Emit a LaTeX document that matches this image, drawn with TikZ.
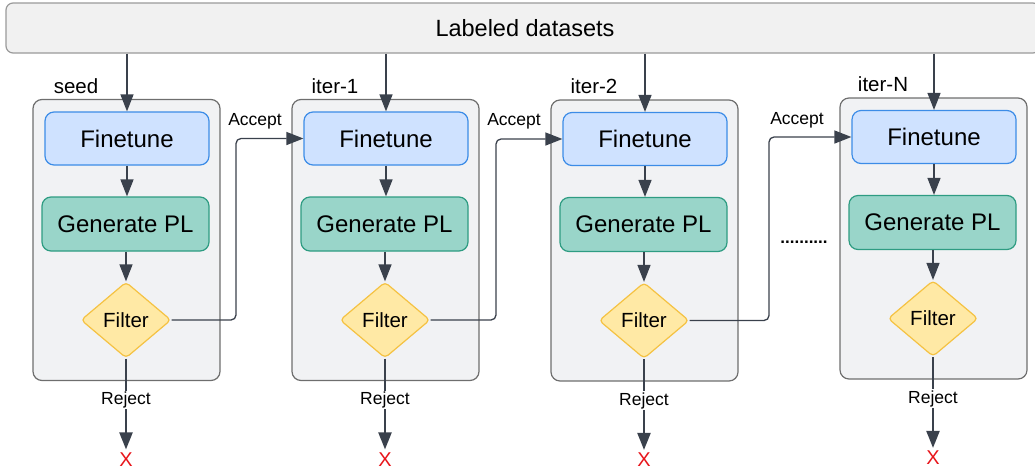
\documentclass[tikz,border=0pt]{standalone}
\usepackage{fontspec}
\setmainfont{Liberation Sans}
\usetikzlibrary{arrows.meta,shapes.geometric}
\definecolor{arr}{HTML}{3A414C}
\definecolor{topfill}{HTML}{F1F1F1}
\definecolor{topdraw}{HTML}{9A9A9A}
\definecolor{colfill}{HTML}{F1F2F4}
\definecolor{coldraw}{HTML}{6E6E6E}
\definecolor{ftfill}{HTML}{CFE2FF}
\definecolor{ftdraw}{HTML}{3C8CE7}
\definecolor{gpfill}{HTML}{99D5C9}
\definecolor{gpdraw}{HTML}{2E9C82}
\definecolor{flfill}{HTML}{FFE9A5}
\definecolor{fldraw}{HTML}{F5C242}
\definecolor{xred}{HTML}{E8151B}
\tikzset{
  topbox/.style={draw=topdraw,fill=topfill,line width=1.2pt,rounded corners=7pt,minimum width=1034pt,minimum height=50pt,inner sep=0pt},
  colbox/.style={draw=coldraw,fill=colfill,line width=1.2pt,rounded corners=9pt,minimum width=187pt,minimum height=281pt,inner sep=0pt},
  ftbox/.style={draw=ftdraw,fill=ftfill,line width=1.2pt,rounded corners=9pt,minimum width=164pt,minimum height=53pt,inner sep=0pt,font=\fontsize{24}{28}\selectfont},
  gpbox/.style={draw=gpdraw,fill=gpfill,line width=1.2pt,rounded corners=9pt,minimum width=167pt,minimum height=54pt,inner sep=0pt,font=\fontsize{24}{28}\selectfont},
  flbox/.style={diamond,draw=fldraw,fill=flfill,line width=1.2pt,rounded corners=4pt,minimum width=90pt,minimum height=76pt,inner sep=0pt,font=\fontsize{20.5}{24}\selectfont},
  collabel/.style={inner sep=0pt,font=\fontsize{20.5}{24}\selectfont},
  smalllabel/.style={inner sep=1pt,fill=white,font=\fontsize{17.5}{21}\selectfont},
  xmark/.style={inner sep=0pt,text=xred,font=\fontsize{20}{24}\selectfont},
  thinarrow/.style={draw=arr,line width=1.3pt,-{Triangle[length=17pt,width=13pt]}},
  rejline/.style={draw=arr,line width=2.2pt},
  rejarrow/.style={draw=arr,line width=2.2pt,-{Triangle[length=17pt,width=13pt]}},
  accline/.style={draw=arr,line width=1.3pt,rounded corners=5pt,-{Triangle[length=17pt,width=13pt]}},
}
\begin{document}
\begin{tikzpicture}[x=1pt,y=-1pt]
\useasboundingbox (0,0) rectangle (1035,472);
\node[topbox] (top) at (523,28) {};
\node[inner sep=0pt,font=\fontsize{23.5}{28}\selectfont] (toptext) at (525,28) {Labeled datasets};
\foreach \n/\dx/\dy/\lab in {0/0/0/seed,1/259/0/iter-1,2/518/0.5/iter-2,3/807/-1.5/iter-N}{
  \begin{scope}[shift={(\dx,\dy)}]
    \node[colbox] (col\n) at (126.5,240) {};
    \node[collabel] (lab\n) at (76,86) {\lab};
    \node[ftbox] (ft\n) at (127,138.5) {Finetune};
    \node[gpbox] (gp\n) at (125.5,224) {Generate PL};
    \node[flbox] (fl\n) at (126,320) {Filter};
    \node[smalllabel] (rej\n) at (126,400) {Reject};
    \node[xmark] (x\n) at (126,459.5) {X};
  \end{scope}
  \draw[thinarrow] (top.south -| ft\n.north) -- (ft\n.north);
  \draw[thinarrow] (ft\n.south) -- (ft\n.south |- gp\n.north);
  \draw[thinarrow] (gp\n.south -| fl\n.north) -- (fl\n.north);
  \draw[rejline] (fl\n.south) -- (rej\n.north);
  \draw[rejarrow] (rej\n.south) -- ([yshift=3pt]x\n.north);
}
\coordinate (a1) at (236,0);
\coordinate (a2) at (496,0);
\coordinate (a3) at (769,0);
\draw[accline] (fl0.east) -- (fl0.east -| a1) -- (a1 |- ft1.west) -- (ft1.west);
\draw[accline] (fl1.east) -- (fl1.east -| a2) -- (a2 |- ft2.west) -- (ft2.west);
\draw[accline] (fl2.east) -- (fl2.east -| a3) -- (a3 |- ft3.west) -- (ft3.west);
\node[inner sep=0pt,font=\fontsize{17.5}{21}\selectfont] (acc1) at (255,121) {Accept};
\node[inner sep=0pt,font=\fontsize{17.5}{21}\selectfont] (acc2) at (514,121) {Accept};
\node[inner sep=0pt,font=\fontsize{17.5}{21}\selectfont] (acc3) at (797,120) {Accept};
\node[inner sep=0pt,font=\bfseries\fontsize{17}{20}\selectfont] (dots) at (804,242) {..........};
\end{tikzpicture}
\end{document}
